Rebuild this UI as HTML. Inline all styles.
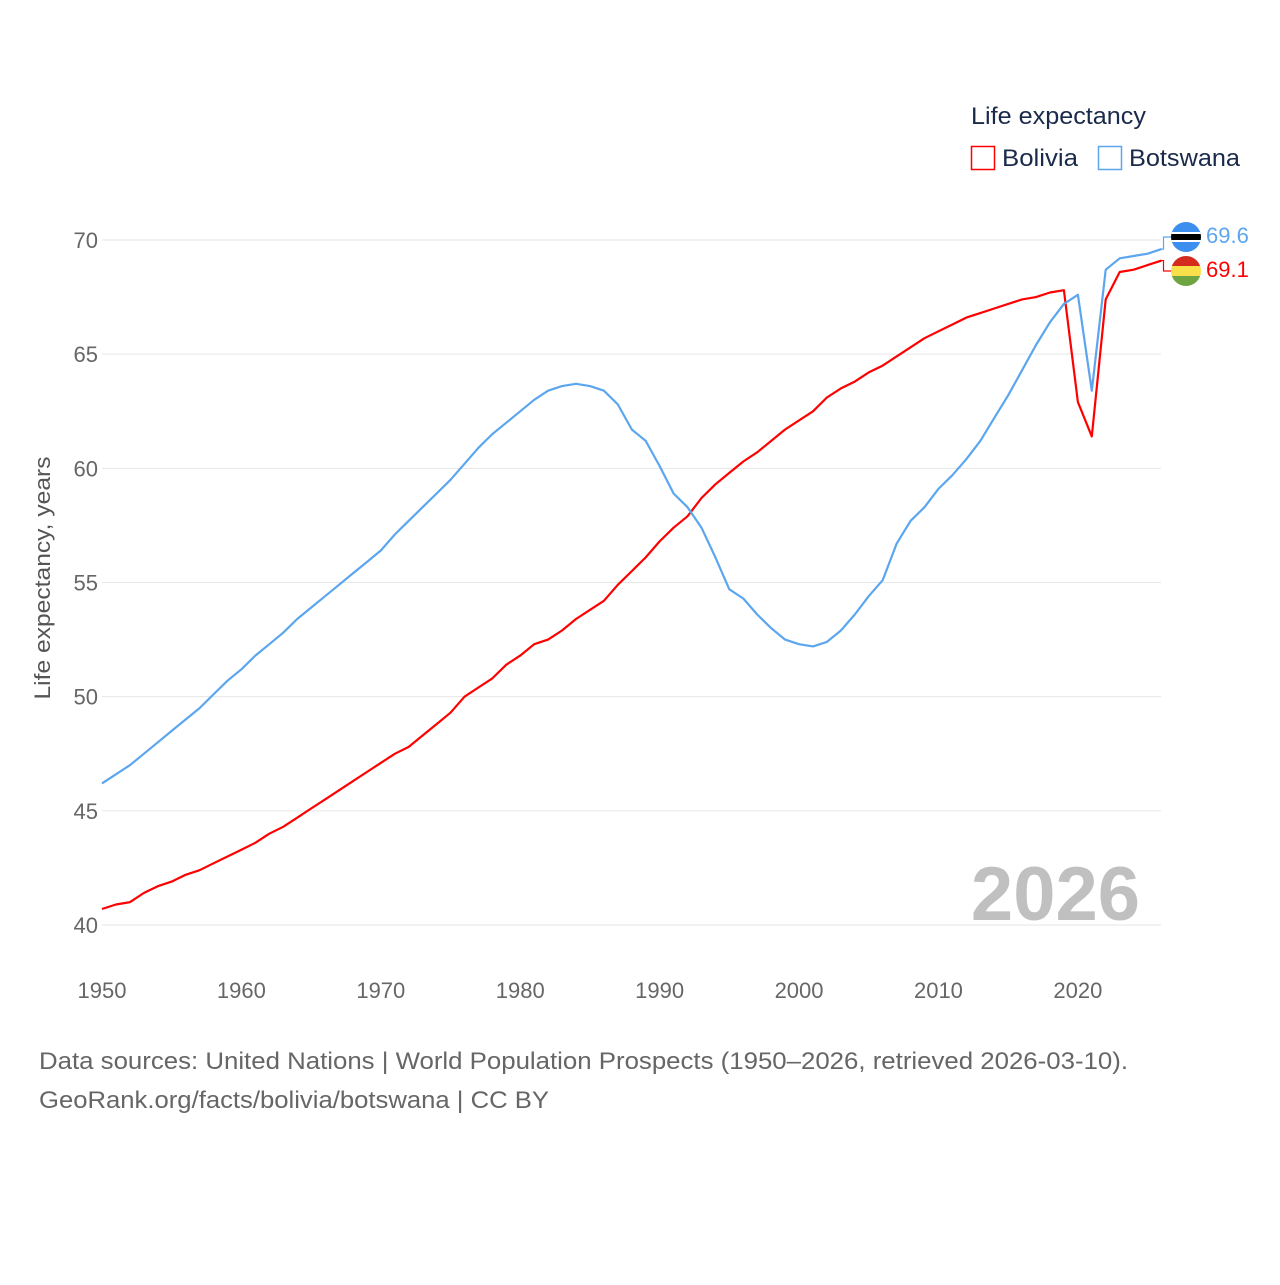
<!DOCTYPE html>
<html><head><meta charset="utf-8">
<style>
body{margin:0;background:#fff;width:1280px;height:1280px;overflow:hidden;font-family:"Liberation Sans",sans-serif;}
svg text{font-family:"Liberation Sans",sans-serif;}
</style></head>
<body>
<svg id="chart" width="1280" height="1280" xmlns="http://www.w3.org/2000/svg">
  <g id="grid"></g>
  <g id="yticks"></g>
  <g id="xticks"></g>
  <text transform="translate(50,578) rotate(-90)" text-anchor="middle" font-size="22" fill="#555" textLength="243" lengthAdjust="spacingAndGlyphs">Life expectancy, years</text>
  <text x="1140" y="920" text-anchor="end" font-size="76" font-weight="bold" fill="#c0c0c0">2026</text>
  <g id="series"></g>
  <g>
    <text x="971" y="124" font-size="24" fill="#1a2a4a" textLength="175" lengthAdjust="spacingAndGlyphs">Life expectancy</text>
    <g>
      <rect x="971.5" y="146.5" width="23" height="23" fill="none" stroke="#ff0000" stroke-width="1.5"/>
      <text x="1002" y="166" font-size="24" fill="#1a2a4a" textLength="76" lengthAdjust="spacingAndGlyphs">Bolivia</text>
    </g>
    <g>
      <rect x="1098.5" y="146.5" width="23" height="23" fill="none" stroke="#5ba6ee" stroke-width="1.5"/>
      <text x="1129" y="166" font-size="24" fill="#1a2a4a" textLength="111" lengthAdjust="spacingAndGlyphs">Botswana</text>
    </g>
  </g>
  <defs>
    <clipPath id="c1"><circle cx="1186" cy="237" r="15"/></clipPath>
    <clipPath id="c2"><circle cx="1186" cy="271" r="15"/></clipPath>
  </defs>
  <g clip-path="url(#c1)">
    <rect x="1171" y="222" width="30" height="30" fill="#3d8fef"/>
    <rect x="1171" y="232" width="30" height="10" fill="#fff"/>
    <rect x="1171" y="234" width="30" height="6" fill="#000"/>
  </g>
  <g clip-path="url(#c2)">
    <rect x="1171" y="256" width="30" height="10" fill="#d52b1e"/>
    <rect x="1171" y="266" width="30" height="10" fill="#f9e04a"/>
    <rect x="1171" y="276" width="30" height="10" fill="#6fa443"/>
  </g>
  <text id="lblB" x="1206" y="243" font-size="22" fill="#5ba6ee">69.6</text>
  <text id="lblR" x="1206" y="277" font-size="22" fill="#ff0000">69.1</text>
  <text x="39" y="1069" font-size="24" fill="#666" textLength="1089" lengthAdjust="spacingAndGlyphs">Data sources: United Nations | World Population Prospects (1950–2026, retrieved 2026-03-10).</text>
  <text x="39" y="1108" font-size="24" fill="#666" textLength="510" lengthAdjust="spacingAndGlyphs">GeoRank.org/facts/bolivia/botswana | CC BY</text>
</svg>
<script>
const years=[];for(let y=1950;y<=2026;y++)years.push(y);
const yTicks=[40,45,50,55,60,65,70];
const xTicks=[1950,1960,1970,1980,1990,2000,2010,2020];
const bolivia=[40.7,40.9,41.0,41.4,41.7,41.9,42.2,42.4,42.7,43.0,43.3,43.6,44.0,44.3,44.7,45.1,45.5,45.9,46.3,46.7,47.1,47.5,47.8,48.3,48.8,49.3,50.0,50.4,50.8,51.4,51.8,52.3,52.5,52.9,53.4,53.8,54.2,54.9,55.5,56.1,56.8,57.4,57.9,58.7,59.3,59.8,60.3,60.7,61.2,61.7,62.1,62.5,63.1,63.5,63.8,64.2,64.5,64.9,65.3,65.7,66.0,66.3,66.6,66.8,67.0,67.2,67.4,67.5,67.7,67.8,62.9,61.4,67.4,68.6,68.7,68.9,69.1];
const botswana=[46.2,46.6,47.0,47.5,48.0,48.5,49.0,49.5,50.1,50.7,51.2,51.8,52.3,52.8,53.4,53.9,54.4,54.9,55.4,55.9,56.4,57.1,57.7,58.3,58.9,59.5,60.2,60.9,61.5,62.0,62.5,63.0,63.4,63.6,63.7,63.6,63.4,62.8,61.7,61.2,60.1,58.9,58.3,57.4,56.1,54.7,54.3,53.6,53.0,52.5,52.3,52.2,52.4,52.9,53.6,54.4,55.1,56.7,57.7,58.3,59.1,59.7,60.4,61.2,62.2,63.2,64.3,65.4,66.4,67.2,67.6,63.4,68.7,69.2,69.3,69.4,69.6];
const X=v=>102+(v-1950)*(1161.5-102)/76;
const Y=v=>925-(v-40)*(925-240)/30;
const NS="http://www.w3.org/2000/svg";
function mk(t,a,p){const e=document.createElementNS(NS,t);for(const k in a)e.setAttribute(k,a[k]);p.appendChild(e);return e;}
const grid=document.getElementById('grid'),yt=document.getElementById('yticks'),xt=document.getElementById('xticks'),ser=document.getElementById('series');
yTicks.forEach(v=>{
  const l=mk('line',{x1:102,x2:1161,y1:Y(v),y2:Y(v),stroke:'#e6e6e6','stroke-width':1},grid);
  
  
  const t=mk('text',{x:98,y:Y(v)+8,'text-anchor':'end','font-size':22,fill:'#666'},yt);
  t.textContent=v;
  
  
});
xTicks.forEach(v=>{
  const t=mk('text',{x:X(v),y:998,'text-anchor':'middle','font-size':22,fill:'#666'},xt);
  t.textContent=v;
  
  
});
function line(vals,color,name){
  const d=vals.map((v,i)=>(i?'L':'M')+X(years[i]).toFixed(1)+','+Y(v).toFixed(1)).join('');
  const p=mk('path',{d:d,fill:'none',stroke:color,'stroke-width':2.2,'stroke-linejoin':'round'},ser);
  
  
}
line(bolivia,'#ff0000','bolivia-line');
line(botswana,'#5ba6ee','botswana-line');
const lx=X(2026);
const cb=mk('path',{d:`M${lx},${Y(botswana[botswana.length-1])}L${lx+2},${Y(botswana[botswana.length-1])}L${lx+2},237L1172,237`,fill:'none',stroke:'#5ba6ee','stroke-width':1.2},ser);


const cr=mk('path',{d:`M${lx},${Y(bolivia[bolivia.length-1])}L${lx+2},${Y(bolivia[bolivia.length-1])}L${lx+2},271L1172,271`,fill:'none',stroke:'#ff0000','stroke-width':1.2},ser);


document.getElementById('lblB').textContent=botswana[botswana.length-1].toFixed(1);
document.getElementById('lblR').textContent=bolivia[bolivia.length-1].toFixed(1);
</script>
</body></html>
